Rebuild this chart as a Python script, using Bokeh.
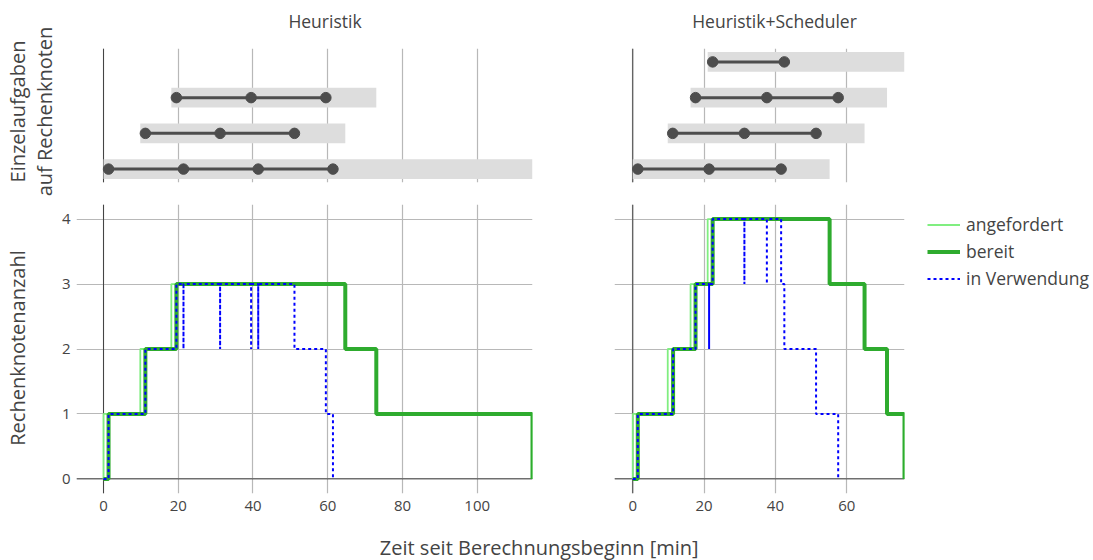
import math
from bokeh.plotting import figure
from bokeh.models import Range1d, FixedTicker, Span, Label, Legend, LegendItem
from bokeh.layouts import column, row
from bokeh.embed import file_html
from bokeh.resources import INLINE

FONT = "Open Sans"
TXT = "#444444"
GRID = "#b8b8b8"
ZERO = "#444444"

# ---------------- data ----------------
panel_titles = ["Heuristik", "Heuristik+Scheduler"]
x_title = "Zeit seit Berechnungsbeginn [min]"
y_title_top = ["Einzelaufgaben", "auf Rechenknoten"]
y_title_bottom = "Rechenknotenanzahl"
series_names = ["angefordert", "bereit", "in Verwendung"]

left_x_ticks = [0, 20, 40, 60, 80, 100]
right_x_ticks = [0, 20, 40, 60]
count_ticks = [0, 1, 2, 3, 4]

# Heuristik: node lifetime (grey bars) and task boundaries (dots)
h_node_start = [0, 9.84, 18.15]
h_node_end = [114.8, 64.7, 73.0]
h_task_times = [[1.35, 21.4, 41.4, 61.4], [11.2, 31.2, 51.1], [19.5, 39.5, 59.5]]

# Heuristik+Scheduler
hs_node_start = [0, 9.8, 16.2, 21.0]
hs_node_end = [55.2, 65.0, 71.3, 76.2]
hs_task_times = [[1.4, 21.4, 41.6], [11.2, 31.3, 51.4], [17.6, 37.6, 57.6], [22.4, 42.5]]

# node counts (step after)
h_req_t = [0, 0, 9.84, 18.15, 64.7, 73.0, 114.8]
h_req_n = [0, 1, 2, 3, 2, 1, 0]
h_rdy_t = [0, 1.35, 11.2, 19.5, 64.7, 73.0, 114.8]
h_rdy_n = [0, 1, 2, 3, 2, 1, 0]
h_use_t = [0, 1.35, 11.2, 19.5, 21.4, 21.4, 31.2, 31.2, 39.5, 39.5, 41.4, 41.4, 51.1, 59.5, 61.4]
h_use_n = [0, 1, 2, 3, 2, 3, 2, 3, 2, 3, 2, 3, 2, 1, 0]

hs_req_t = [0, 0, 9.8, 16.2, 21.0, 55.2, 65.0, 71.3, 76.2]
hs_req_n = [0, 1, 2, 3, 4, 3, 2, 1, 0]
hs_rdy_t = [0, 1.4, 11.3, 17.6, 22.4, 55.2, 65.0, 71.3, 76.2]
hs_rdy_n = [0, 1, 2, 3, 4, 3, 2, 1, 0]
hs_use_t = [0, 1.4, 11.3, 17.6, 21.4, 21.4, 22.4, 31.3, 31.3, 37.6, 37.6, 41.6, 42.5, 51.4, 57.6]
hs_use_n = [0, 1, 2, 3, 2, 3, 4, 3, 4, 3, 4, 3, 2, 1, 0]

# ---------------- styles ----------------
BAR = "#dddddd"
DOT = "#4d4d4d"
C_REQ = "#80ee80"
C_RDY = "#2eab2e"
C_USE = "#0000ff"
STYLES = [dict(line_color=C_REQ, line_width=1.8),
          dict(line_color=C_RDY, line_width=4),
          dict(line_color=C_USE, line_width=2, line_dash="3 3")]

LEFT_XR = (-7.23, 114.8)
RIGHT_XR = (-5.13, 76.2)
TOP_YR = (-0.375, 3.375)
BOT_YR = (-0.225, 4.225)


def make_fig(w, h, xr, yr, bl, br, bt, bb):
    p = figure(width=w, height=h, x_range=Range1d(*xr), y_range=Range1d(*yr),
               output_backend="svg", toolbar_location=None, title=None,
               min_border_left=bl, min_border_right=br,
               min_border_top=bt, min_border_bottom=bb)
    p.outline_line_color = None
    p.background_fill_color = "white"
    p.border_fill_color = "white"
    for ax in (p.xaxis, p.yaxis):
        ax.axis_line_color = None
        ax.major_tick_line_color = None
        ax.minor_tick_line_color = None
        ax.major_label_text_font = FONT
        ax.major_label_text_font_size = "15px"
        ax.major_label_text_color = TXT
    p.xgrid.grid_line_color = GRID
    p.ygrid.grid_line_color = GRID
    p.xgrid.grid_line_width = 1.2
    p.ygrid.grid_line_width = 1.2
    return p


def text_strip(x_left, x_right, y_top, y_bottom):
    # a blank strip whose frame fills the canvas; ranges are in page pixels
    p = figure(width=x_right - x_left, height=y_bottom - y_top,
               x_range=Range1d(x_left, x_right), y_range=Range1d(y_bottom, y_top),
               output_backend="svg", toolbar_location=None, title=None,
               min_border_left=0, min_border_right=0, min_border_top=0, min_border_bottom=0)
    p.outline_line_color = None
    p.xaxis.visible = False
    p.yaxis.visible = False
    p.xgrid.visible = False
    p.ygrid.visible = False
    return p


def top_panel(w, xr, bl, br, starts, ends, tasks, xticks):
    p = make_fig(w, 153, xr, TOP_YR, bl, br, 8, 11)
    p.xaxis.visible = False
    p.yaxis.visible = False
    p.ygrid.visible = False
    p.xgrid.ticker = FixedTicker(ticks=xticks)
    p.add_layout(Span(location=0, dimension="height", line_color=ZERO, line_width=1, level="underlay"))
    rows = list(range(len(starts)))
    p.hbar(y=rows, left=starts, right=ends, height=0.55, fill_color=BAR, line_color=None)
    ys = [[r] * len(t) for r, t in zip(rows, tasks)]
    p.multi_line(xs=tasks, ys=ys, line_color=DOT, line_width=3)
    fx = [v for t in tasks for v in t]
    fy = [v for y in ys for v in y]
    p.scatter(fx, fy, size=10.5, fill_color=DOT, line_color=DOT)
    return p


def bottom_panel(w, xr, bl, br, xticks, req, rdy, use, show_y):
    p = make_fig(w, 332, xr, BOT_YR, bl, br, 11, 32)
    p.xaxis.ticker = FixedTicker(ticks=xticks)
    p.xgrid.ticker = FixedTicker(ticks=xticks)
    p.yaxis.ticker = FixedTicker(ticks=count_ticks)
    p.ygrid.ticker = FixedTicker(ticks=count_ticks)
    p.xaxis.major_label_standoff = 1
    p.yaxis.major_label_standoff = 0
    if not show_y:
        p.yaxis.visible = False
    p.add_layout(Span(location=0, dimension="height", line_color=ZERO, line_width=1, level="underlay"))
    p.add_layout(Span(location=0, dimension="width", line_color=ZERO, line_width=1, level="underlay"))
    for (t, n), st in zip((req, rdy, use), STYLES):
        p.step(t, n, mode="after", **st)
    return p


tl = top_panel(517, LEFT_XR, 20, 41, h_node_start, h_node_end, h_task_times, left_x_ticks)
tr = top_panel(520, RIGHT_XR, 41, 189, hs_node_start, hs_node_end, hs_task_times, right_x_ticks)

bl = bottom_panel(517, LEFT_XR, 20, 41, left_x_ticks,
                  (h_req_t, h_req_n), (h_rdy_t, h_rdy_n), (h_use_t, h_use_n), True)
brp = bottom_panel(347, RIGHT_XR, 41, 16, right_x_ticks,
                   (hs_req_t, hs_req_n), (hs_rdy_t, hs_rdy_n), (hs_use_t, hs_use_n), False)

# legend strip (page x 920..1093, y 193..525); key lines hold no visible data
lg = text_strip(920, 1093, 193, 525)
nan = float("nan")
keys = [lg.line([nan], [nan], **st) for st in STYLES]
legend = Legend(items=[LegendItem(label=n, renderers=[r]) for n, r in zip(series_names, keys)],
                location=(7, 201.5), padding=0, margin=0, spacing=0,
                glyph_width=33, glyph_height=27, label_height=27, label_standoff=6,
                label_text_font=FONT, label_text_font_size="17.5px", label_text_color=TXT,
                background_fill_alpha=0, border_line_color=None)
lg.add_layout(legend)


def lab(p, text, x, y, size, angle=0.0):
    p.add_layout(Label(x=x, y=y, text=text, angle=angle,
                       text_align="center", text_baseline="alphabetic",
                       text_font=FONT, text_font_size=size, text_color=TXT))


# text strips (coordinates are page pixels)
ts = text_strip(56, 1093, 0, 40)
lab(ts, panel_titles[0], 324.5, 20, "17.5px")
lab(ts, panel_titles[1], 774, 20, "17.5px")

ys_ = text_strip(0, 56, 0, 525)
lab(ys_, y_title_top[0], 17, 111, "20px", math.pi / 2)
lab(ys_, y_title_top[1], 43.5, 111, "20px", math.pi / 2)
lab(ys_, y_title_bottom, 17, 347.5, "20px", math.pi / 2)

xs_ = text_strip(0, 1093, 525, 560)
lab(xs_, x_title, 538.7, 546.5, "20px")

layout = column(row(ys_, column(ts, row(tl, tr), row(bl, brp, lg))), xs_)
open("out.html", "w").write(file_html(layout, INLINE))
